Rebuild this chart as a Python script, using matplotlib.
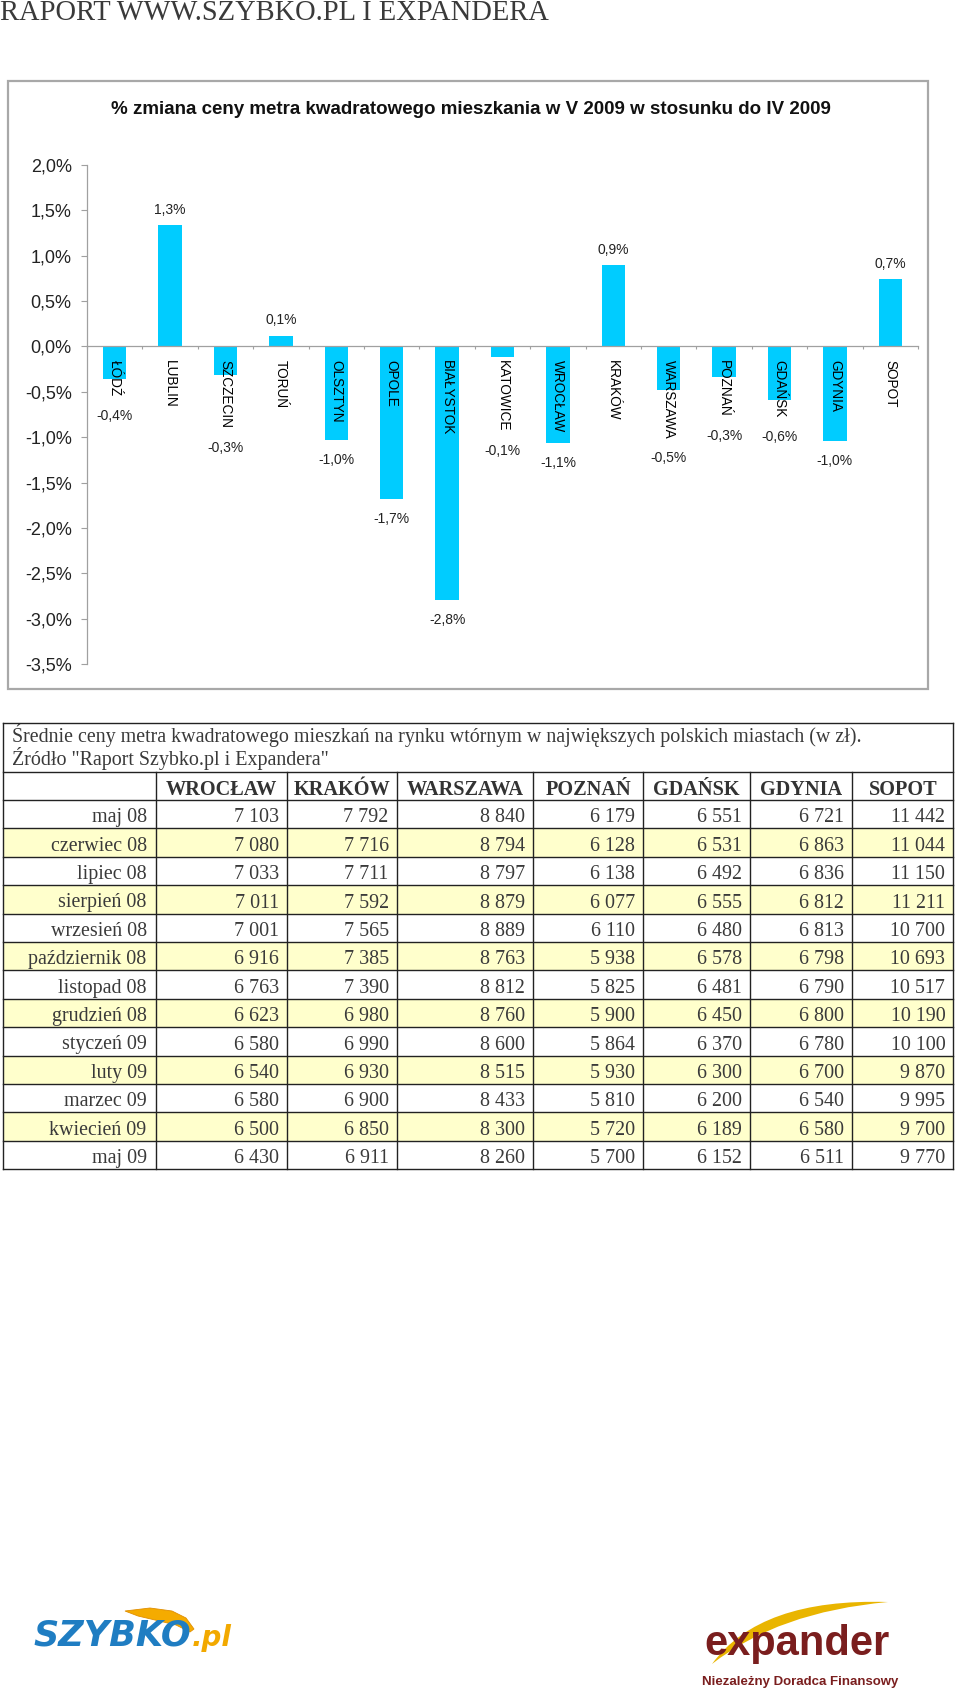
import numpy as np
import matplotlib
matplotlib.use('Agg')
import matplotlib.pyplot as plt
from matplotlib.patches import Rectangle, Polygon, PathPatch
from matplotlib.path import Path
from matplotlib.ticker import FuncFormatter

# --- data: bar chart ---
cities = ['ŁÓDŹ', 'LUBLIN', 'SZCZECIN', 'TORUŃ', 'OLSZTYN', 'OPOLE', 'BIAŁYSTOK',
          'KATOWICE', 'WROCŁAW', 'KRAKÓW', 'WARSZAWA', 'POZNAŃ', 'GDAŃSK', 'GDYNIA', 'SOPOT']
change_pct = [-0.36, 1.34, -0.31, 0.12, -1.03, -1.68, -2.80,
              -0.12, -1.06, 0.90, -0.48, -0.34, -0.59, -1.04, 0.74]
y_ticks = [-3.5, -3.0, -2.5, -2.0, -1.5, -1.0, -0.5, 0.0, 0.5, 1.0, 1.5, 2.0]

# --- data: price table ---
table_cols = ['WROCŁAW', 'KRAKÓW', 'WARSZAWA', 'POZNAŃ', 'GDAŃSK', 'GDYNIA', 'SOPOT']
months = ['maj 08', 'czerwiec 08', 'lipiec 08', 'sierpień 08', 'wrzesień 08',
          'październik 08', 'listopad 08', 'grudzień 08', 'styczeń 09', 'luty 09',
          'marzec 09', 'kwiecień 09', 'maj 09']
wroclaw = [7103, 7080, 7033, 7011, 7001, 6916, 6763, 6623, 6580, 6540, 6580, 6500, 6430]
krakow = [7792, 7716, 7711, 7592, 7565, 7385, 7390, 6980, 6990, 6930, 6900, 6850, 6911]
warszawa = [8840, 8794, 8797, 8879, 8889, 8763, 8812, 8760, 8600, 8515, 8433, 8300, 8260]
poznan = [6179, 6128, 6138, 6077, 6110, 5938, 5825, 5900, 5864, 5930, 5810, 5720, 5700]
gdansk = [6551, 6531, 6492, 6555, 6480, 6578, 6481, 6450, 6370, 6300, 6200, 6189, 6152]
gdynia = [6721, 6863, 6836, 6812, 6813, 6798, 6790, 6800, 6780, 6700, 6540, 6580, 6511]
sopot = [11442, 11044, 11150, 11211, 10700, 10693, 10517, 10190, 10100, 9870, 9995, 9700, 9770]
table_values = [wroclaw, krakow, warszawa, poznan, gdansk, gdynia, sopot]

page_title = 'RAPORT WWW.SZYBKO.PL I EXPANDERA'
chart_title = '% zmiana ceny metra kwadratowego mieszkania w V 2009 w stosunku do IV 2009'
caption = ['Średnie ceny metra kwadratowego mieszkań na rynku wtórnym w największych polskich miastach (w zł).',
           'Źródło "Raport Szybko.pl i Expandera"']

W, H = 960, 1695
BAR = '#00ccff'
SANS = ['Liberation Sans', 'DejaVu Sans']
SERIF = ['Liberation Serif', 'DejaVu Serif']
NARROW = ['Liberation Sans Narrow', 'Liberation Sans', 'DejaVu Sans']

fig = plt.figure(figsize=(W / 100, H / 100), dpi=100)
renderer = fig.canvas.get_renderer()

# page layer in pixel coordinates (y down)
page = fig.add_axes([0, 0, 1, 1], zorder=0)
page.set_xlim(0, W)
page.set_ylim(H, 0)
page.axis('off')


def fit_width(txt, target):
    w = txt.get_window_extent(renderer).width
    txt.set_fontsize(txt.get_fontsize() * target / w)


# header line
t = page.text(0, 0, page_title, family=SERIF, fontsize=20, color='#3a3a3a', ha='left', va='top')
fit_width(t, 551)

# --- chart box + title ---
page.add_patch(Rectangle((7.6, 81), 920, 608, fill=False, ec='#a8a8a8', lw=1.6))
t = page.text(471, 109, chart_title, family=SANS, weight='bold', fontsize=13,
              color='#111111', ha='center', va='center')
fit_width(t, 721)

# --- bar chart ---
ax = fig.add_axes([87 / W, 1 - 664 / H, 831 / W, 499 / H], zorder=2)
ax.patch.set_alpha(0)
x = np.arange(len(cities))
ax.bar(x, change_pct, width=0.42, color=BAR, zorder=2)
ax.set_xlim(-0.5, len(cities) - 0.5)
ax.set_ylim(-3.5, 2.0)
ax.set_yticks(y_ticks)
ax.yaxis.set_major_formatter(FuncFormatter(lambda v, p: f'{v:.1f}%'.replace('.', ',')))
ax.set_xticks(np.arange(-0.5, len(cities), 1))
ax.set_xticklabels([])
for s in ['top', 'right']:
    ax.spines[s].set_visible(False)
ax.spines['bottom'].set_position(('data', 0))
for s in ['left', 'bottom']:
    ax.spines[s].set_color('#a0a0a0')
    ax.spines[s].set_linewidth(0.9)
ax.tick_params(axis='y', length=4, width=0.8, color='#a0a0a0', pad=7,
               labelsize=13, labelcolor='#222222')
ax.tick_params(axis='x', length=2.5, width=0.8, color='#a0a0a0', direction='out')
for lbl in ax.get_yticklabels():
    lbl.set_family(SANS)

cat_texts = []
for i, c in enumerate(cities):
    ct = ax.annotate(c, (i, 0), xytext=(0, -9.5), textcoords='offset points',
                     rotation=270, ha='center', va='top', fontsize=9.8,
                     family=SANS, color='#000000', zorder=3)
    cat_texts.append(ct)

fig.canvas.draw()
for i, v in enumerate(change_pct):
    lbl = f'{v:.1f}%'.replace('.', ',')
    if v >= 0:
        ax.annotate(lbl, (i, v), xytext=(0, 11), textcoords='offset points',
                    ha='center', va='center', fontsize=10, family=SANS, color='#222222')
    else:
        bb = cat_texts[i].get_window_extent(renderer)
        bar_y = ax.transData.transform((i, v))[1]
        low = min(bb.y0, bar_y) - 20
        yd = ax.transData.inverted().transform((0, low))[1]
        ax.text(i, yd, lbl, ha='center', va='center', fontsize=10,
                family=SANS, color='#222222')

# --- price table ---
col_edges = [3.3, 155.7, 286.7, 396.7, 533.3, 643.3, 750.0, 852.3, 953.3]
table_top, caption_bottom, header_bottom, row_h = 722.7, 771.7, 800.0, 28.4
table_bottom = header_bottom + row_h * len(months)
line_kw = dict(color='#222222', lw=1.0, zorder=3)
txt_col = '#3a3a3a'

for r in range(len(months)):
    top = header_bottom + r * row_h
    if r % 2 == 1:
        page.add_patch(Rectangle((col_edges[0], top), col_edges[-1] - col_edges[0], row_h,
                                 fc='#ffffcc', ec='none', zorder=1))
    page.plot([col_edges[0], col_edges[-1]], [top + row_h] * 2, **line_kw)
    page.text(col_edges[1] - 9, top + 22.3, months[r], family=SERIF, fontsize=14.4,
              color=txt_col, ha='right', va='baseline')
    for c, series in enumerate(table_values):
        s = f'{series[r]:,}'.replace(',', ' ')
        page.text(col_edges[c + 2] - 8, top + 22.3, s, family=SERIF, fontsize=14.4,
                  color=txt_col, ha='right', va='baseline')

for c, name in enumerate(table_cols):
    page.text((col_edges[c + 1] + col_edges[c + 2]) / 2, caption_bottom + 23.3, name,
              family=SERIF, weight='bold', fontsize=14.6, color='#333333',
              ha='center', va='baseline')

page.text(11.7, 741.7, caption[0], family=SERIF, fontsize=14.4, color=txt_col,
          ha='left', va='baseline')
page.text(11.7, 765.0, caption[1], family=SERIF, fontsize=14.4, color=txt_col,
          ha='left', va='baseline')

for y in [table_top, caption_bottom, header_bottom]:
    page.plot([col_edges[0], col_edges[-1]], [y, y], **line_kw)
for xe in col_edges[1:-1]:
    page.plot([xe, xe], [caption_bottom, table_bottom], **line_kw)
for xe in [col_edges[0], col_edges[-1]]:
    page.plot([xe, xe], [table_top, table_bottom], **line_kw)

# --- logos ---
page.add_patch(Polygon([(125, 1611), (150, 1608), (172, 1611), (186, 1618), (194, 1629),
                        (190, 1632), (176, 1625), (155, 1620), (138, 1616)],
                       closed=True, fc='#f5ab00', ec='#e08e00', lw=0.6))
t = page.text(33, 1646, 'SZYBKO', family='DejaVu Sans', weight='bold', style='oblique',
              fontsize=21, color='#1f7dc2', ha='left', va='baseline')
fit_width(t, 158)
page.text(192, 1646, '.pl', family='DejaVu Sans', weight='bold', style='oblique',
          fontsize=20, color='#f2a900', ha='left', va='baseline')

swoosh = Path([(712, 1664), (760, 1598), (888, 1602), (778, 1612), (712, 1664)],
              [Path.MOVETO, Path.CURVE3, Path.CURVE3, Path.CURVE3, Path.CURVE3])
page.add_patch(PathPatch(swoosh, fc='#e9b500', ec='none'))
t = page.text(797, 1655, 'expander', family=NARROW, weight='bold', fontsize=30,
              color='#7a1e1e', ha='center', va='baseline')
fit_width(t, 185)
t = page.text(800, 1682, 'Niezależny Doradca Finansowy', family=NARROW, weight='bold',
              fontsize=10.5, color='#7a1e1e', ha='center', va='center')
fit_width(t, 197)

fig.savefig('out.png', dpi=100)
